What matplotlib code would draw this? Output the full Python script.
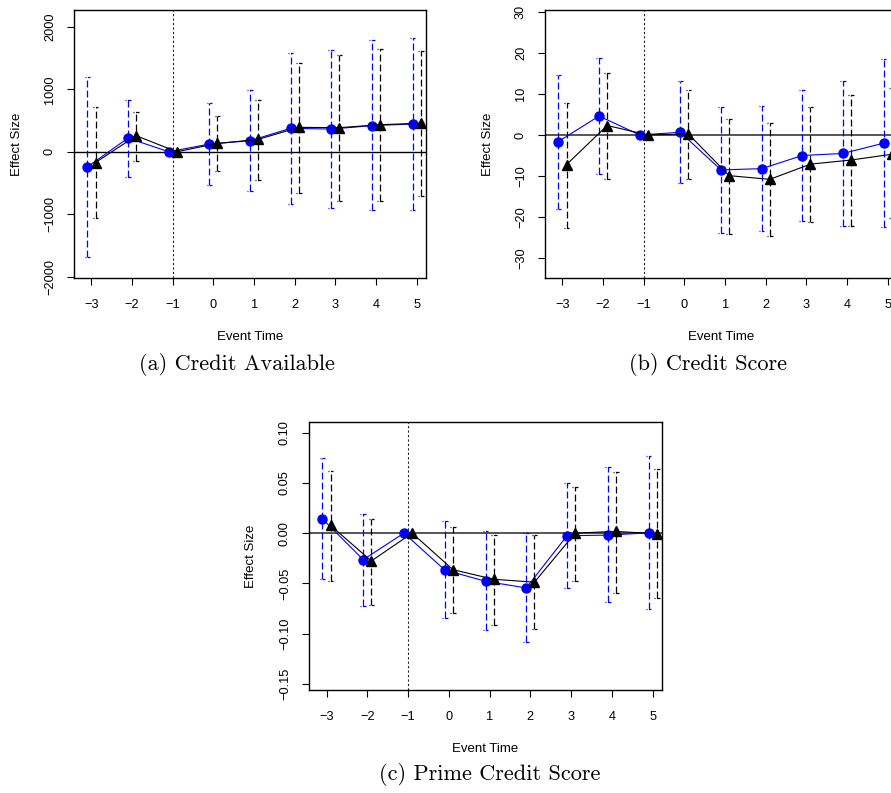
import matplotlib
matplotlib.use("Agg")
import matplotlib.pyplot as plt
import numpy as np

plt.rcParams["font.family"] = ["Liberation Sans", "DejaVu Sans"]

event_time = np.arange(-3, 6)

# (a) Credit Available
blue_a = [-241, 220, 0, 123, 177, 375, 364, 418, 445]
blue_a_lo = [-1683, -397, 0, -536, -627, -836, -895, -938, -933]
blue_a_hi = [1195, 836, 0, 788, 992, 1587, 1629, 1785, 1817]
black_a = [-172, 257, 0, 134, 198, 391, 386, 434, 456]
black_a_lo = [-1067, -150, 0, -311, -456, -665, -788, -788, -713]
black_a_hi = [713, 643, 0, 574, 836, 1426, 1544, 1640, 1619]

# (b) Credit Score
blue_b = [-1.6, 4.6, 0, 0.65, -8.5, -8.2, -5.0, -4.5, -2.0]
blue_b_lo = [-18.1, -9.5, 0, -11.6, -23.8, -23.4, -20.9, -22.1, -22.5]
blue_b_hi = [14.7, 18.8, 0, 13.1, 6.7, 7.1, 11.0, 13.2, 18.4]
black_b = [-7.2, 2.3, 0, 0.2, -9.9, -10.8, -7.1, -6.1, -4.7]
black_b_lo = [-22.6, -10.8, 0, -10.7, -24.0, -24.7, -21.2, -22.1, -20.3]
black_b_hi = [7.8, 15.0, 0, 10.9, 4.0, 2.9, 6.8, 9.8, 11.4]

# (c) Prime Credit Score
blue_c = [0.0142, -0.0264, 0, -0.0366, -0.0479, -0.0545, -0.0026, -0.0020, 0.0003]
blue_c_lo = [-0.0455, -0.0726, 0, -0.0848, -0.0967, -0.1083, -0.0548, -0.0686, -0.0752]
blue_c_hi = [0.0743, 0.0195, 0, 0.0119, 0.0017, -0.0003, 0.0495, 0.0657, 0.0762]
black_c = [0.0076, -0.0277, 0, -0.0363, -0.0459, -0.0488, 0.0, 0.0017, -0.0007]
black_c_lo = [-0.0475, -0.0710, 0, -0.0792, -0.0914, -0.0957, -0.0475, -0.0591, -0.0650]
black_c_hi = [0.0617, 0.0145, 0, 0.0063, -0.0017, -0.0023, 0.0462, 0.0610, 0.0634]

W, H = 891, 793
XLIM = (-3.43, 5.23)
OFFSET = 0.1


def px_axes(fig, left, top, width, height):
    return fig.add_axes([left / W, 1 - (top + height) / H, width / W, height / H])


def ci_bars(ax, x, lo, hi, color):
    for xi, l, h in zip(x, lo, hi):
        if l == h:
            continue
        ax.vlines(xi, l, h, color=color, lw=0.9, linestyles=[(0, (5.5, 2.5))], zorder=2)
        for y in (l, h):
            ax.hlines(y, xi - 0.07, xi + 0.07, color=color, lw=0.9,
                      linestyles=[(0, (0.8, 1.2, 3.0, 10))], zorder=2)


def panel(ax, blue, blue_lo, blue_hi, black, black_lo, black_hi,
          ylim, yticks, ylabels, zero_color, zero_lw):
    xb = event_time - OFFSET
    xk = event_time + OFFSET
    ax.axhline(0, color=zero_color, lw=zero_lw, zorder=1)
    ax.axvline(-1, color="#222222", lw=0.8, linestyle=(0, (2.0, 2.0)), zorder=1)
    ci_bars(ax, xb, blue_lo, blue_hi, "#0000ff")
    ci_bars(ax, xk, black_lo, black_hi, "black")
    ax.plot(xb, blue, color="#0000ff", lw=0.8, marker="o", ms=6.5, zorder=3)
    ax.plot(xk, black, color="black", lw=0.8, marker="^", ms=7, zorder=4)
    ax.set_xlim(*XLIM)
    ax.set_ylim(*ylim)
    ax.set_xticks(event_time)
    ax.set_yticks(yticks)
    ax.set_yticklabels(ylabels, rotation=90, va="center")
    ax.tick_params(direction="out", length=5, width=0.8, labelsize=9.2, pad=8)
    ax.tick_params(axis="x", pad=10)
    for s in ax.spines.values():
        s.set_linewidth(1.0)
    ax.set_xlabel("Event Time", fontsize=9.5, va="center")
    ax.set_ylabel("Effect Size", fontsize=9.5, va="center")
    ax.xaxis.set_label_coords(0.5, -0.22)
    ax.yaxis.set_label_coords(-0.163, 0.5)


fig = plt.figure(figsize=(W / 100, H / 100), dpi=100)

ax_a = px_axes(fig, 74, 10, 352, 268)
panel(ax_a, blue_a, blue_a_lo, blue_a_hi, black_a, black_a_lo, black_a_hi,
      (-2021, 2270), [-2000, -1000, 0, 1000, 2000],
      ["\u22122000", "\u22121000", "0", "1000", "2000"], "black", 1.0)

ax_b = px_axes(fig, 545, 10, 352, 268)
panel(ax_b, blue_b, blue_b_lo, blue_b_hi, black_b, black_b_lo, black_b_hi,
      (-34.8, 30.4), [-30, -20, -10, 0, 10, 20, 30],
      ["\u221230", "\u221220", "\u221210", "0", "10", "20", "30"], "#555555", 1.4)

ax_c = px_axes(fig, 309, 422, 353, 268)
panel(ax_c, blue_c, blue_c_lo, blue_c_hi, black_c, black_c_lo, black_c_hi,
      (-0.156, 0.1105), [-0.15, -0.10, -0.05, 0.0, 0.05, 0.10],
      ["\u22120.15", "\u22120.10", "\u22120.05", "0.00", "0.05", "0.10"], "#555555", 1.4)

cap_font = dict(family="cmr10", fontsize=16, ha="center", va="center")
fig.text(237 / W, 1 - 365 / H, "(a) Credit Available", **cap_font)
fig.text(708 / W, 1 - 365 / H, "(b) Credit Score", **cap_font)
fig.text(490 / W, 1 - 775 / H, "(c) Prime Credit Score", **cap_font)

fig.savefig("out.png", dpi=100)
